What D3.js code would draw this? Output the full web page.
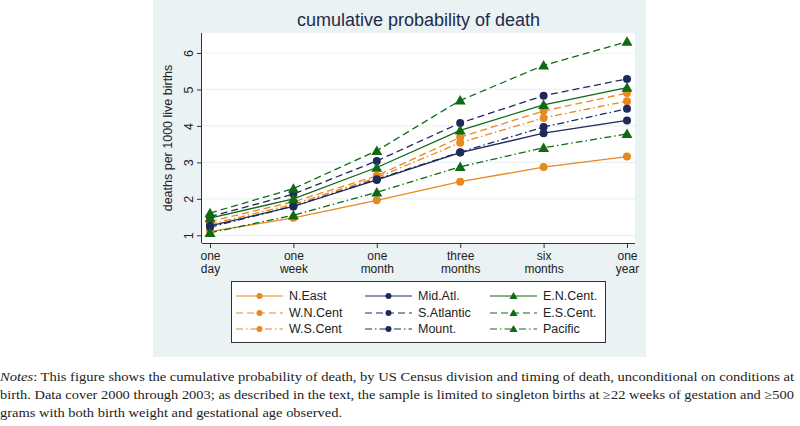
<!DOCTYPE html>
<html><head><meta charset="utf-8">
<script src="https://cdn.jsdelivr.net/npm/d3@7"></script>
<style>body{margin:0;background:#fff}svg{display:block}</style>
</head><body>
<svg id="c" width="800" height="426"></svg>
<script>
const categories = [["one","day"],["one","week"],["one","month"],["three","months"],["six","months"],["one","year"]];
const yTicks = [1,2,3,4,5,6];
const seriesNames = ["N.East","W.N.Cent","W.S.Cent","Mid.Atl.","S.Atlantic","Mount.","E.N.Cent.","E.S.Cent.","Pacific"];
const nEast     = [1.10, 1.48, 1.96, 2.47, 2.87, 3.16];
const wnCent    = [1.38, 1.92, 2.63, 3.69, 4.41, 4.90];
const wsCent    = [1.30, 1.85, 2.58, 3.54, 4.22, 4.68];
const midAtl    = [1.26, 1.79, 2.52, 3.27, 3.80, 4.15];
const sAtlantic = [1.51, 2.13, 3.04, 4.08, 4.83, 5.29];
const mount     = [1.22, 1.80, 2.54, 3.28, 3.97, 4.47];
const enCent    = [1.47, 2.00, 2.86, 3.88, 4.58, 5.05];
const esCent    = [1.61, 2.28, 3.32, 4.70, 5.66, 6.31];
const pacific   = [1.07, 1.55, 2.18, 2.88, 3.40, 3.78];
const seriesValues = [nEast, wnCent, wsCent, midAtl, sAtlantic, mount, enCent, esCent, pacific];

const ORANGE = "#e8891f", NAVY = "#1d2a5b", GREEN = "#0f6a12";
const styles = [
  {c:ORANGE,d:null,m:"circle"},{c:ORANGE,d:"7,4",m:"circle"},{c:ORANGE,d:"7,3,1.5,3",m:"circle"},
  {c:NAVY,d:null,m:"circle"},{c:NAVY,d:"7,4",m:"circle"},{c:NAVY,d:"7,3,1.5,3",m:"circle"},
  {c:GREEN,d:null,m:"tri"},{c:GREEN,d:"7,4",m:"tri"},{c:GREEN,d:"7,3,1.5,3",m:"tri"}
];

const svg = d3.select("#c");
const font = "'Liberation Sans', Arial, sans-serif";
svg.append("rect").attr("x",153).attr("y",0).attr("width",493).attr("height",357).attr("fill","#eaf2f3");
const pl = 202, pr = 635, pt = 33, pb = 243;
svg.append("rect").attr("x",pl).attr("y",pt).attr("width",pr-pl).attr("height",pb-pt).attr("fill","#fff");

const x = d3.scalePoint().domain(d3.range(categories.length)).range([210, 627]);
const y = d3.scaleLinear().domain([1,6]).range([235.3, 53]);

svg.append("g").selectAll("line").data(yTicks).join("line")
  .attr("x1",pl).attr("x2",pr).attr("y1",d=>y(d)).attr("y2",d=>y(d))
  .attr("stroke","#eaf2f3").attr("stroke-width",1.2);

svg.append("text").attr("x",(pl+pr)/2).attr("y",26).attr("text-anchor","middle")
  .attr("font-family",font).attr("font-size",18).attr("fill","#1e2b4a").text("cumulative probability of death");

const yAxis = svg.append("g").attr("transform",`translate(${pl},0)`)
  .call(d3.axisLeft(y).tickValues(yTicks).tickSize(5).tickPadding(4).tickFormat(d3.format("d")));
yAxis.select(".domain").attr("d",`M-0.5,${pt}V${pb}`).attr("stroke","#333");
yAxis.selectAll(".tick line").attr("stroke","#333");
yAxis.selectAll(".tick text").attr("font-family",font).attr("font-size",12.5).attr("fill","#222")
  .attr("transform","rotate(-90,-13,0)")
  .attr("x",-13).attr("dy","0.35em").attr("text-anchor","middle").attr("y",0);
svg.append("text").attr("transform",`translate(172,${(pt+pb)/2}) rotate(-90)`)
  .attr("text-anchor","middle").attr("font-family",font).attr("font-size",12.5).attr("fill","#222")
  .text("deaths per 1000 live births");

const xAxis = svg.append("g").attr("transform",`translate(0,${pb})`)
  .call(d3.axisBottom(x).tickSize(5).tickFormat(""));
xAxis.select(".domain").attr("d",`M${pl},0.5H${pr}`).attr("stroke","#333");
xAxis.selectAll(".tick line").attr("stroke","#333");
xAxis.selectAll(".tick").each(function(d){
  const g = d3.select(this);
  g.append("text").attr("text-anchor","middle").attr("x",0).attr("y",17)
    .attr("font-family",font).attr("font-size",12).attr("fill","#222").text(categories[d][0]);
  g.append("text").attr("text-anchor","middle").attr("x",0).attr("y",30)
    .attr("font-family",font).attr("font-size",12).attr("fill","#222").text(categories[d][1]);
});

function marker(g, m, cx, cy, col, sc){
  sc = sc || 1;
  if(m==="circle") g.append("circle").attr("cx",cx).attr("cy",cy).attr("r",4*sc).attr("fill",col);
  else g.append("path").attr("d",d3.symbol(d3.symbolTriangle,52*sc*sc)()).attr("transform",`translate(${cx},${cy+1*sc})`).attr("fill",col);
}

const line = d3.line().x((d,i)=>x(i)).y(d=>y(d));
const plot = svg.append("g");
seriesValues.forEach((vals,k)=>{
  const s = styles[k];
  plot.append("path").datum(vals).attr("d",line).attr("fill","none").attr("stroke",s.c)
    .attr("stroke-width",1.3).attr("stroke-dasharray",s.d);
});
seriesValues.forEach((vals,k)=>{
  const s = styles[k];
  const g = plot.append("g");
  vals.forEach((v,i)=>marker(g,s.m,x(i),y(v),s.c));
});

svg.append("rect").attr("x",231.5).attr("y",281.5).attr("width",374).attr("height",61)
  .attr("fill","#fff").attr("stroke","#333").attr("stroke-width",1);
const colX = [236, 365, 490], rowY = [296, 313, 329];
seriesNames.forEach((name,k)=>{
  const col = Math.floor(k/3), row = k%3, s = styles[k];
  const lx = colX[col], ly = rowY[row];
  const g = svg.append("g");
  g.append("line").attr("x1",lx).attr("x2",lx+47).attr("y1",ly).attr("y2",ly)
    .attr("stroke",s.c).attr("stroke-width",1.2).attr("stroke-dasharray",s.d);
  marker(g, s.m, lx+23.5, ly, s.c, 0.75);
  g.append("text").attr("x",lx+53).attr("y",ly).attr("dy","0.35em")
    .attr("font-family",font).attr("font-size",12.5).attr("fill","#222").text(name);
});

const serif = "'Liberation Serif','DejaVu Serif',serif";
const n1 = svg.append("text").attr("x",0).attr("y",381).attr("font-family",serif).attr("font-size",12.5).attr("fill","#222")
  .attr("textLength",794).attr("lengthAdjust","spacingAndGlyphs");
n1.append("tspan").attr("font-style","italic").text("Notes");
n1.append("tspan").text(": This figure shows the cumulative probability of death, by US Census division and timing of death, unconditional on conditions at");
svg.append("text").attr("x",0).attr("y",399).attr("font-family",serif).attr("font-size",12.5).attr("fill","#222")
  .attr("textLength",794).attr("lengthAdjust","spacingAndGlyphs")
  .text("birth. Data cover 2000 through 2003; as described in the text, the sample is limited to singleton births at \u226522 weeks of gestation and \u2265500");
svg.append("text").attr("x",0).attr("y",417).attr("font-family",serif).attr("font-size",12.5).attr("fill","#222")
  .attr("textLength",342).attr("lengthAdjust","spacingAndGlyphs")
  .text("grams with both birth weight and gestational age observed.");
</script>
</body></html>
